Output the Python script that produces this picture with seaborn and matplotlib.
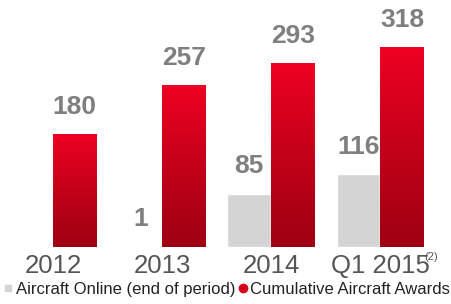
import numpy as np
import pandas as pd
import matplotlib
matplotlib.use("Agg")
import matplotlib.pyplot as plt
from matplotlib.lines import Line2D
from matplotlib.colors import LinearSegmentedColormap
import seaborn as sns

# 数据
periods = ["2012", "2013", "2014", "Q1 2015"]
online = [np.nan, 1, 85, 116]
awards = [180, 257, 293, 318]
series_names = ["Aircraft Online (end of period)", "Cumulative Aircraft Awards"]

GRAY = "#d4d4d4"
RED = "#d8001a"
LABEL = "#7f7f7f"
TICK = "#555555"

df = pd.DataFrame({
    "period": periods * 2,
    "series": [series_names[0]] * 4 + [series_names[1]] * 4,
    "value": online + awards,
})

sns.set_theme(style="white")
plt.rcParams["font.family"] = ["Liberation Sans", "DejaVu Sans"]

fig = plt.figure(figsize=(4.51, 3.04), dpi=100, facecolor="white")
ax = fig.add_axes([0, 57 / 304, 1, 247 / 304])

sns.barplot(data=df, x="period", y="value", hue="series", order=periods,
            hue_order=series_names, palette=[GRAY, RED], width=0.8,
            saturation=1, legend=False, ax=ax)

ax.set_xlim(-0.486, 3.65)
ax.set_ylim(0, 393)

# 红色柱渐变
grad = LinearSegmentedColormap.from_list("redgrad", ["#9e0012", "#c4001a", "#ee0022"])
for bar in ax.patches:
    h = bar.get_height()
    if np.isnan(h) or h <= 0:
        continue
    fc = bar.get_facecolor()
    if fc[0] > 0.7 and fc[1] < 0.2:
        x0, w = bar.get_x(), bar.get_width()
        img = ax.imshow(np.linspace(0, 1, 100).reshape(-1, 1), cmap=grad,
                        extent=(x0, x0 + w, 0, h), origin="lower",
                        aspect="auto", zorder=bar.get_zorder() + 0.1)
        img.set_clip_path(bar)

# 数值标签
for bar in ax.patches:
    h = bar.get_height()
    if np.isnan(h):
        continue
    ax.annotate(f"{int(h)}", (bar.get_x() + bar.get_width() / 2, h),
                xytext=(0, 11), textcoords="offset points", ha="center",
                va="bottom", fontsize=19, fontweight="bold", color=LABEL,
                zorder=5)

ax.set_xlabel("")
ax.set_ylabel("")
ax.set_yticks([])
ax.tick_params(axis="x", length=0, pad=5, labelsize=18.5, labelcolor=TICK)
for sp in ax.spines.values():
    sp.set_visible(False)
ax.set_facecolor("none")

fig.text(431 / 451, 1 - 257 / 304, "(2)", fontsize=8, color=TICK,
         ha="center", va="center")

handles = [
    Line2D([], [], marker="s", linestyle="", color=GRAY, markersize=5),
    Line2D([], [], marker="o", linestyle="", color=RED, markersize=6),
]
fig.legend(handles, series_names, loc="lower center", ncol=2,
           bbox_to_anchor=(0.5, -0.025), frameon=False, fontsize=12,
           handletextpad=0.0, columnspacing=0.0, handlelength=0.9,
           labelcolor="#222222")

fig.savefig("out.png", dpi=100, facecolor="white")
